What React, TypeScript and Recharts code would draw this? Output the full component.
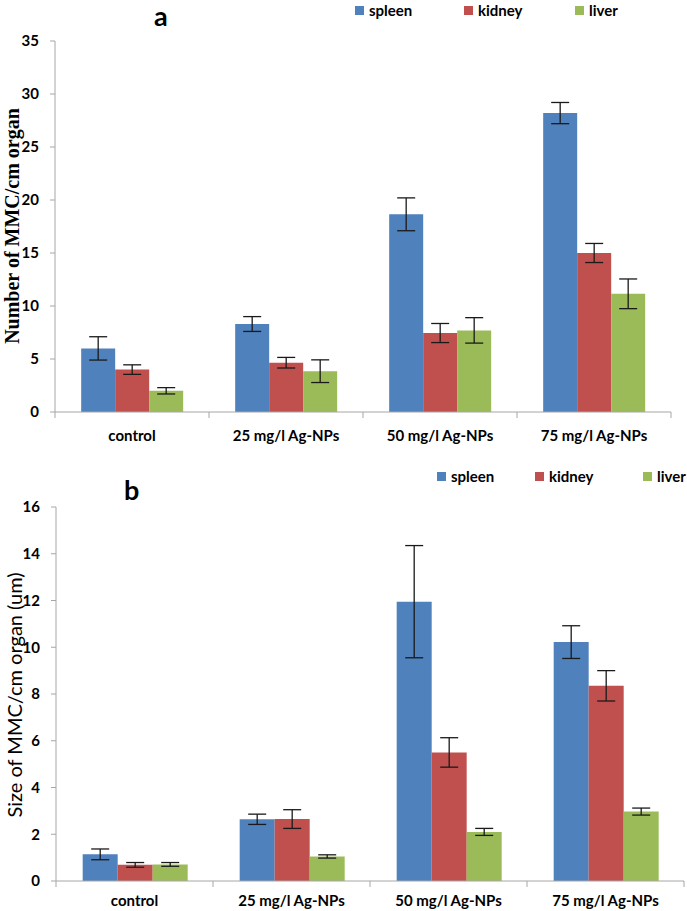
import React from "react";
import { Bar, BarChart, ErrorBar, Legend, XAxis, YAxis } from "recharts";

const categories = ["control", "25 mg/l Ag-NPs", "50 mg/l Ag-NPs", "75 mg/l Ag-NPs"];
const organs = ["spleen", "kidney", "liver"];

// panel a: number of MMC per cm organ
const countSpleen = [6.0, 8.3, 18.65, 28.2];
const countSpleenErr = [1.1, 0.7, 1.55, 1.0];
const countKidney = [4.0, 4.65, 7.45, 15.0];
const countKidneyErr = [0.45, 0.5, 0.9, 0.9];
const countLiver = [2.0, 3.85, 7.7, 11.15];
const countLiverErr = [0.3, 1.07, 1.2, 1.4];
const countTicks = [0, 5, 10, 15, 20, 25, 30, 35];

// panel b: size of MMC (um)
const sizeSpleen = [1.14, 2.64, 11.95, 10.22];
const sizeSpleenErr = [0.23, 0.22, 2.4, 0.7];
const sizeKidney = [0.69, 2.65, 5.5, 8.35];
const sizeKidneyErr = [0.1, 0.4, 0.63, 0.65];
const sizeLiver = [0.71, 1.05, 2.1, 2.97];
const sizeLiverErr = [0.08, 0.07, 0.15, 0.15];
const sizeTicks = [0, 2, 4, 6, 8, 10, 12, 14, 16];

const colors = ["#4f81bd", "#c0504d", "#9bbb59"];
const axisColor = "#a6a6a6";
const sans = "Lato, 'Open Sans', sans-serif";

const build = (s: number[], se: number[], k: number[], ke: number[], l: number[], le: number[]) =>
  categories.map((c, i) => ({
    name: c,
    spleen: s[i],
    spleenErr: se[i],
    kidney: k[i],
    kidneyErr: ke[i],
    liver: l[i],
    liverErr: le[i],
  }));

const countData = build(countSpleen, countSpleenErr, countKidney, countKidneyErr, countLiver, countLiverErr);
const sizeData = build(sizeSpleen, sizeSpleenErr, sizeKidney, sizeKidneyErr, sizeLiver, sizeLiverErr);

const makeTick = (half: number, dy: number) => (props: any) => {
  const { x, y, payload, index } = props;
  return (
    <g>
      <line x1={x - half} x2={x - half} y1={y} y2={y + 6} stroke={axisColor} />
      {index === categories.length - 1 && (
        <line x1={x + half} x2={x + half} y1={y} y2={y + 6} stroke={axisColor} />
      )}
      <text x={x} y={y + dy} textAnchor="middle" dominantBaseline="central" fontFamily={sans} fontWeight={700} fontSize={15} fill="#000">
        {payload.value}
      </text>
    </g>
  );
};

function LegendRow({ payload, widths }: any) {
  const items = [...(payload || [])].sort(
    (a: any, b: any) => organs.indexOf(a.value) - organs.indexOf(b.value)
  );
  return (
    <div style={{ display: "flex", fontFamily: sans, fontWeight: 700, fontSize: 15, color: "#000" }}>
      {items.map((p: any, i: number) => (
        <div key={p.value} style={{ display: "flex", alignItems: "center", width: widths[i] }}>
          <span style={{ width: 9, height: 9, background: p.color, marginRight: 5 }} />
          <span>{p.value}</span>
        </div>
      ))}
    </div>
  );
}

interface PanelProps {
  data: any[];
  yMax: number;
  ticks: number[];
  height: number;
  margin: { top: number; right: number; left: number; bottom: number };
  half: number;
  tickDy: number;
  legendPos: { left: number; top: number };
  legendWidths: number[];
}

function Panel({ data, yMax, ticks, height, margin, half, tickDy, legendPos, legendWidths }: PanelProps) {
  return (
    <BarChart width={687} height={height} data={data} margin={margin} barGap={0} barCategoryGap="17%">
      <XAxis
        dataKey="name"
        stroke={axisColor}
        tickLine={false}
        tickSize={0}
        tickMargin={0}
        height={30}
        interval={0}
        tick={makeTick(half, tickDy)}
      />
      <YAxis
        width={30}
        domain={[0, yMax]}
        ticks={ticks}
        stroke={axisColor}
        tickSize={5}
        tickMargin={11}
        tick={{ fill: "#000", fontFamily: sans, fontWeight: 700, fontSize: 15 }}
        allowDataOverflow
      />
      <Legend
        verticalAlign="middle"
        align="center"
        content={(p: any) => <LegendRow payload={p.payload} widths={legendWidths} />}
        wrapperStyle={{ position: "absolute", left: legendPos.left, top: legendPos.top, width: 330 }}
      />
      {organs.map((o, i) => (
        <Bar key={o} dataKey={o} name={o} fill={colors[i]} isAnimationActive={false}>
          <ErrorBar dataKey={`${o}Err`} width={9} stroke="#1a1a1a" strokeWidth={1.3} />
        </Bar>
      ))}
    </BarChart>
  );
}

export default function App() {
  return (
    <div style={{ position: "absolute", left: 0, top: 0, width: 687, height: 911, background: "#fff" }}>
      <div style={{ position: "absolute", left: 0, top: 0 }}>
        <Panel
          data={countData}
          yMax={35}
          ticks={countTicks}
          height={455}
          margin={{ top: 41, right: 16, left: 25, bottom: 13 }}
          half={77}
          tickDy={23}
          legendPos={{ left: 355, top: 1 }}
          legendWidths={[109, 111, 60]}
        />
      </div>
      <div style={{ position: "absolute", left: 0, top: 455 }}>
        <Panel
          data={sizeData}
          yMax={16}
          ticks={sizeTicks}
          height={456}
          margin={{ top: 52, right: 3, left: 26, bottom: 0 }}
          half={78.5}
          tickDy={19}
          legendPos={{ left: 437, top: 12 }}
          legendWidths={[98, 108, 50]}
        />
      </div>
      <div style={{ position: "absolute", left: 154, top: 1, fontFamily: sans, fontWeight: 700, fontSize: 27, lineHeight: "30px" }}>a</div>
      <div style={{ position: "absolute", left: 124, top: 475, fontFamily: sans, fontWeight: 700, fontSize: 27, lineHeight: "30px" }}>b</div>
      <div
        style={{
          position: "absolute",
          left: 12,
          top: 226,
          transform: "translate(-50%, -50%) rotate(-90deg)",
          whiteSpace: "nowrap",
          fontFamily: "'Liberation Serif', serif",
          fontWeight: 700,
          fontSize: 20,
        }}
      >
        Number of MMC/cm organ
      </div>
      <div
        style={{
          position: "absolute",
          left: 14,
          top: 695,
          transform: "translate(-50%, -50%) rotate(-90deg)",
          whiteSpace: "nowrap",
          fontFamily: sans,
          fontSize: 20,
        }}
      >
        Size of MMC/cm organ (um)
      </div>
    </div>
  );
}
